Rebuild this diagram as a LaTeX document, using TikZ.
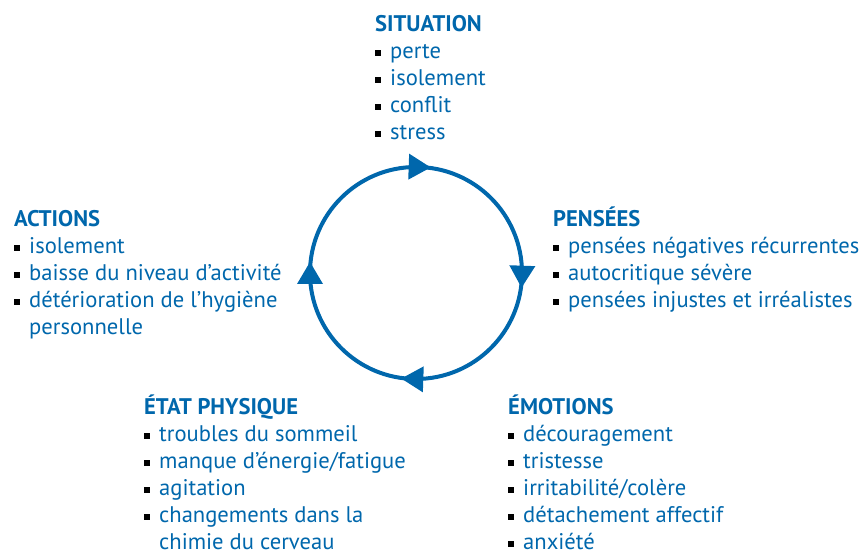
\documentclass[tikz,border=0pt]{standalone}
\usepackage{fontspec}
\setmainfont{PT Sans}
\usetikzlibrary{positioning}

\definecolor{bleu}{RGB}{0,103,172}
% petit carre noir devant chaque element
\newcommand\puce{\textcolor{black}{\rule[3pt]{6pt}{6pt}}\hspace{9pt}}
\newcommand\suite{\hspace{15pt}}
\newcommand\titre[1]{\textbf{#1}}

\begin{document}
\begin{tikzpicture}[x=1pt,y=1pt,
  % ancre sur la ligne de base de la derniere ligne
  bloc/.style={anchor=base west,inner sep=0pt,align=left,text=bleu,
    font=\fontsize{22.6}{27}\selectfont},
  boucle/.style={draw=bleu,line width=4pt}]
  \useasboundingbox (0,0) rectangle (863,553);

  % le cycle
  \node[circle,boucle,minimum size=212pt,inner sep=0pt] (cyc) at (416,280) {};
  \foreach \a in {88,-2,268,180}
    \fill[bleu,shift={(cyc.center)},rotate=\a]
      (106,-11) -- (93,11) -- (119,11) -- cycle;

  \node[bloc] (situation) at (375,413) {\titre{SITUATION}\\
    \puce perte\\ \puce isolement\\ \puce conflit\\ \puce stress};
  \node[bloc] (pensees) at (553,245) {\titre{PENSÉES}\\
    \puce pensées négatives récurrentes\\ \puce autocritique sévère\\
    \puce pensées injustes et irréalistes};
  \node[bloc] (emotions) at (508,3) {\titre{ÉMOTIONS}\\
    \puce découragement\\ \puce tristesse\\ \puce irritabilité/colère\\
    \puce détachement affectif\\ \puce anxiété};
  \node[bloc] (physique) at (144,3) {\titre{ÉTAT PHYSIQUE}\\
    \puce troubles du sommeil\\ \puce manque d’énergie/fatigue\\
    \puce agitation\\ \puce changements dans la\\ \suite chimie du cerveau};
  \node[bloc] (actions) at (14,218) {\titre{ACTIONS}\\
    \puce isolement\\ \puce baisse du niveau d’activité\\
    \puce détérioration de l’hygiène\\ \suite personnelle};
\end{tikzpicture}
\end{document}
